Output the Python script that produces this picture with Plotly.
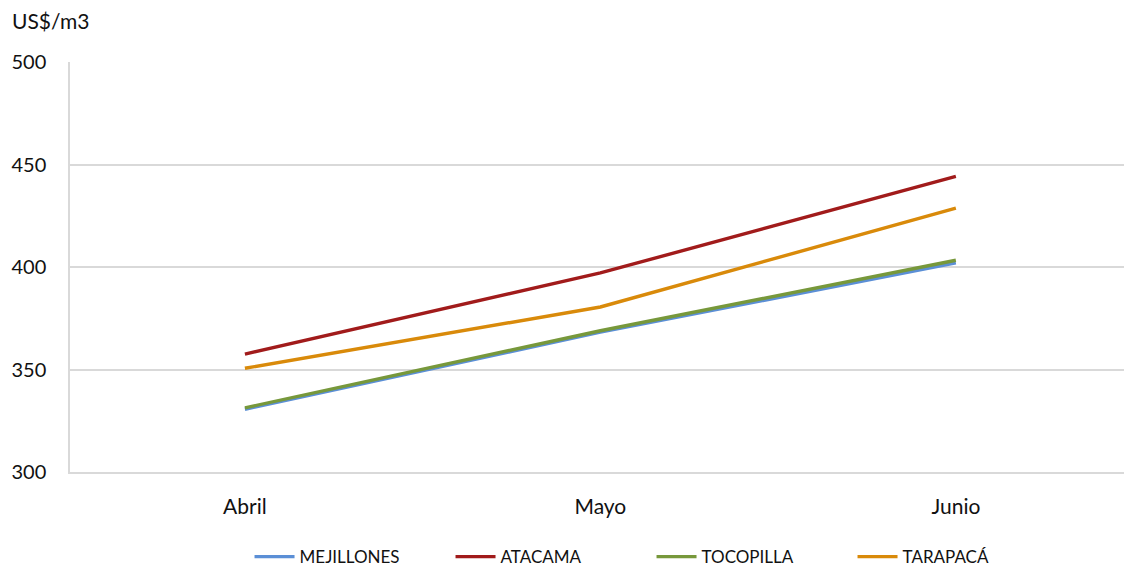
import plotly.graph_objects as go

# Monthly price per cubic metre by region
meses = ["Abril", "Mayo", "Junio"]
mejillones = [330.6, 368.2, 402.0]
atacama = [357.5, 397.1, 444.2]
tocopilla = [331.3, 368.9, 403.3]
tarapaca = [350.6, 380.5, 428.7]

series = [
    ("MEJILLONES", mejillones, "#5B8FD6"),
    ("ATACAMA", atacama, "#A11B1B"),
    ("TOCOPILLA", tocopilla, "#77983B"),
    ("TARAPACÁ", tarapaca, "#D98A0A"),
]

FONT = "Lato, Calibri, Arial, sans-serif"
TXT = "#111111"

fig = go.Figure()
for nombre, valores, color in series:
    fig.add_trace(go.Scatter(
        x=meses, y=valores, name=nombre, mode="lines",
        line=dict(color=color, width=3.4),
    ))

fig.update_layout(
    width=1124, height=569,
    margin=dict(l=70, r=0, t=62, b=97),
    paper_bgcolor="white", plot_bgcolor="white",
    font=dict(family=FONT, size=19, color=TXT),
    showlegend=True,
    legend=dict(
        orientation="h", xref="container", yref="container",
        x=0.222, y=0.021, xanchor="left", yanchor="middle",
        font=dict(family=FONT, size=17, color=TXT),
        entrywidth=146, entrywidthmode="pixels",
        itemwidth=40, tracegroupgap=0,
    ),
    xaxis=dict(
        type="category", range=[-0.492, 2.473],
        showgrid=False, showline=True, linecolor="#D9D9D9", linewidth=1.5,
        ticks="", ticklabelstandoff=15, zeroline=False,
        tickfont=dict(family=FONT, size=21, color=TXT),
    ),
    yaxis=dict(
        range=[300, 500], dtick=50, tick0=300,
        showgrid=True, gridcolor="#D9D9D9", gridwidth=1.5,
        showline=True, linecolor="#D9D9D9", linewidth=1.5,
        ticks="", ticklabelstandoff=18, zeroline=False,
        tickfont=dict(family=FONT, size=20, color=TXT),
    ),
    annotations=[dict(
        text="US$/m3", xref="paper", yref="paper", x=-0.057, y=1.1,
        xanchor="left", yanchor="middle", showarrow=False,
        font=dict(family=FONT, size=21, color=TXT),
    )],
)

fig.write_html("out.html")
